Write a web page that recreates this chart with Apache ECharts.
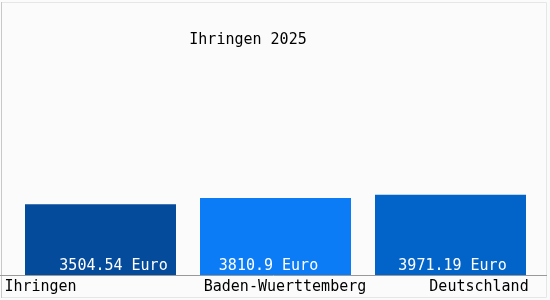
<!DOCTYPE html>
<html>
<head>
<meta charset="utf-8">
<script src="https://cdn.jsdelivr.net/npm/echarts@6/dist/echarts.min.js"></script>
<style>html,body{margin:0;padding:0;background:#fbfbfb}#c{width:550px;height:300px}</style>
</head>
<body>
<div id="c"></div>
<script>
const titleText = 'Ihringen 2025';
const categories = ['Ihringen', 'Baden-Wuerttemberg', 'Deutschland'];
const values = [3504.54, 3810.9, 3971.19];
const unit = 'Euro';
const barColors = ['#044b9b', '#0b7bf6', '#0263c8'];

const labelOffsets = [[13, 0], [-7, 0], [2, 0]];
const catPads = [[0, 120, 0, 0], [0, 0, 0, 19], [0, 0, 0, 57]];
const font = '"DejaVu Sans Mono", monospace';

const chart = echarts.init(document.getElementById('c'), null, {renderer: 'canvas'});
const rich = {};
categories.forEach((c, i) => {
  rich['c' + i] = {padding: catPads[i], fontFamily: font, fontSize: 15, color: '#000'};
});
chart.setOption({
  backgroundColor: '#fbfbfb',
  animation: false,
  title: {
    text: titleText, left: 243, top: 28, textAlign: 'center',
    textStyle: {fontFamily: font, fontSize: 15, fontWeight: 'normal', color: '#000'}
  },
  grid: {left: 13, right: 12, top: 73, bottom: 25},
  xAxis: {
    type: 'category', data: categories,
    axisLine: {show: false}, axisTick: {show: false},
    axisLabel: {
      margin: 5, interval: 0,
      formatter: (v, i) => '{c' + i + '|' + v + '}',
      rich: rich
    }
  },
  yAxis: {type: 'value', min: 0, max: 10000, show: false, splitLine: {show: false}},
  series: [{
    type: 'bar', barWidth: 151,
    data: values.map((v, i) => ({
      value: v,
      itemStyle: {color: barColors[i]},
      label: {offset: labelOffsets[i]}
    })),
    label: {
      show: true, position: 'insideBottom', distance: 1,
      formatter: p => p.value + ' ' + unit,
      fontFamily: font, fontSize: 15, color: '#fff'
    }
  }],
  graphic: [
    {type: 'rect', shape: {x: 1.5, y: 2.5, width: 545, height: 295}, style: {fill: null, stroke: '#e6e6e6', lineWidth: 1}, silent: true},
    {type: 'line', shape: {x1: 1.5, y1: 2, x2: 1.5, y2: 298}, style: {stroke: '#c8c8c8', lineWidth: 1}, silent: true},
    {type: 'line', shape: {x1: 0, y1: 275.5, x2: 547, y2: 275.5}, style: {stroke: '#999999', lineWidth: 1}, silent: true}
  ]
});
</script>
</body>
</html>
